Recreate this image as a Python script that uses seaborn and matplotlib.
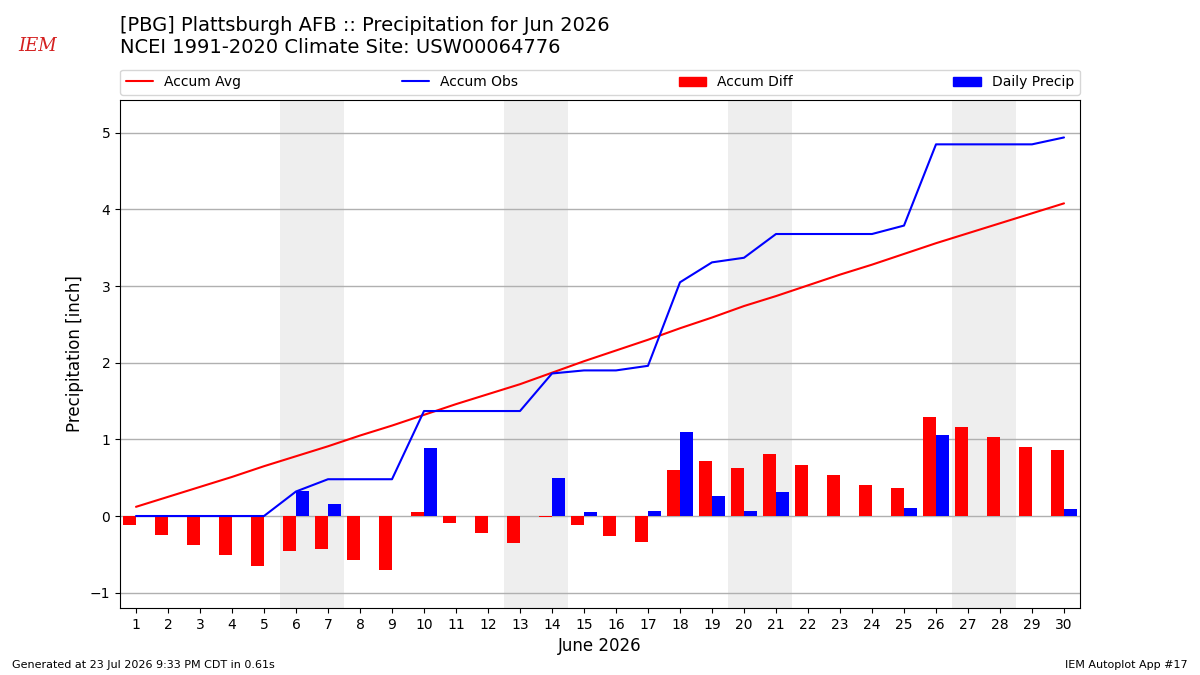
import pandas as pd, numpy as np
import seaborn as sns, matplotlib.pyplot as plt
from matplotlib.lines import Line2D
from matplotlib.patches import Patch

# --- values (inches) ---
days = list(range(1, 31))
accum_avg = [0.12, 0.25, 0.38, 0.51, 0.65, 0.78, 0.91, 1.05, 1.18, 1.32,
             1.46, 1.59, 1.72, 1.87, 2.02, 2.16, 2.30, 2.45, 2.59, 2.74,
             2.87, 3.01, 3.15, 3.28, 3.42, 3.56, 3.69, 3.82, 3.95, 4.08]
daily_precip = [0, 0, 0, 0, 0, 0.32, 0.16, 0, 0, 0.89,
                0, 0, 0, 0.49, 0.05, 0, 0.06, 1.09, 0.26, 0.06,
                0.31, 0, 0, 0, 0.11, 1.06, 0, 0, 0, 0.09]
accum_obs = [0, 0, 0, 0, 0, 0.32, 0.48, 0.48, 0.48, 1.37,
             1.37, 1.37, 1.37, 1.86, 1.90, 1.90, 1.96, 3.05, 3.31, 3.37,
             3.68, 3.68, 3.68, 3.68, 3.79, 4.85, 4.85, 4.85, 4.85, 4.94]
weekends = [(6, 7), (13, 14), (20, 21), (27, 28)]

accum_diff = [round(o - a, 2) for o, a in zip(accum_obs, accum_avg)]

bars = pd.DataFrame({
    "day": days * 2,
    "value": accum_diff + daily_precip,
    "kind": ["Accum Diff"] * 30 + ["Daily Precip"] * 30,
})
lines = pd.DataFrame({"day": days, "avg": accum_avg, "obs": accum_obs})

sns.set_style("ticks")
plt.rcParams["font.family"] = ["DejaVu Sans"]
plt.rcParams.update({"text.color": "black", "axes.labelcolor": "black",
                     "xtick.color": "black", "ytick.color": "black"})

fig = plt.figure(figsize=(12, 6.75), dpi=100)
ax = fig.add_axes([0.1, 0.0993, 0.8, 0.7527])

for a, b in weekends:
    ax.axvspan(a - 0.5, b + 0.5, color="#eeeeee", zorder=0, lw=0)
ax.yaxis.grid(True, color="#b0b0b0", lw=1)
ax.set_axisbelow(True)

sns.barplot(data=bars, x="day", y="value", hue="kind", native_scale=True,
            palette={"Accum Diff": "red", "Daily Precip": "blue"},
            hue_order=["Accum Diff", "Daily Precip"], dodge=True, width=0.8,
            saturation=1, errorbar=None, legend=False, ax=ax, zorder=2,
            linewidth=0, edgecolor="none")
sns.lineplot(data=lines, x="day", y="avg", color="red", lw=1.5, ax=ax, zorder=3)
sns.lineplot(data=lines, x="day", y="obs", color="blue", lw=1.5, ax=ax, zorder=3)

ax.set_xlim(0.5, 30.5)
ax.set_ylim(-1.2, 5.43)
ax.set_xticks(days)
ax.set_xticklabels([str(d) for d in days])
ax.set_yticks(range(-1, 6))
ax.tick_params(labelsize=10)
for s in ax.spines.values():
    s.set_color("black")
    s.set_visible(True)
ax.set_xlabel("June 2026", fontsize=12)
ax.set_ylabel("Precipitation [inch]", fontsize=12)

handles = [Line2D([], [], color="red", lw=1.5), Line2D([], [], color="blue", lw=1.5),
           Patch(color="red"), Patch(color="blue")]
ax.legend(handles, ["Accum Avg", "Accum Obs", "Accum Diff", "Daily Precip"],
          loc="lower left", bbox_to_anchor=(0, 1.01, 1, 0.05), mode="expand",
          ncol=4, fontsize=10, borderaxespad=0, frameon=True)

fig.text(0.1, 0.977, "[PBG] Plattsburgh AFB :: Precipitation for Jun 2026\n"
         "NCEI 1991-2020 Climate Site: USW00064776",
         fontsize=14, va="top", ha="left", linespacing=1.2)
fig.text(0.031, 0.925, "IEM", color="#d42020", fontsize=13, style="italic",
         family="serif", ha="center")
fig.text(0.01, 0.01, "Generated at 23 Jul 2026 9:33 PM CDT in 0.61s", fontsize=8)
fig.text(0.99, 0.01, "IEM Autoplot App #17", fontsize=8, ha="right")

fig.savefig("out.png", dpi=100)
